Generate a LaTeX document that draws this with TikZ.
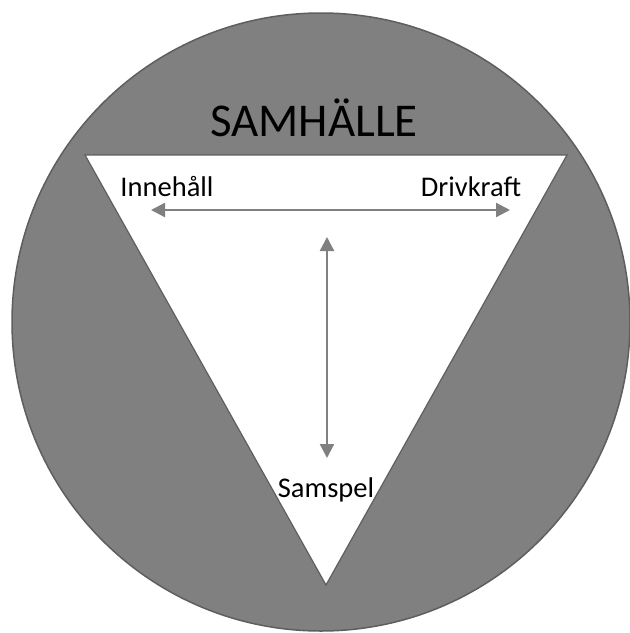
\documentclass[tikz,border=0pt]{standalone}
\usepackage{fontspec}
\setmainfont{Carlito}
\usetikzlibrary{arrows.meta}
\definecolor{disc}{HTML}{808080}
\definecolor{discedge}{HTML}{5E5E5E}
\definecolor{arrowgray}{HTML}{808080}
\tikzset{
  lbl/.style={inner sep=0pt, anchor=base, text=black},
  twoway/.style={arrowgray, line width=2.2pt, {Triangle[length=14pt,width=14pt]}-{Triangle[length=14pt,width=14pt]}}
}
\begin{document}
\begin{tikzpicture}[x=1pt,y=-1pt]
\useasboundingbox (0,0) rectangle (630,633);
\fill[white] (0,0) rectangle (630,633);
\node[circle, minimum size=618pt, inner sep=0pt, fill=disc, draw=discedge, line width=1.5pt] (disc) at (321,322) {};
\coordinate (tl) at (85,155);
\coordinate (tr) at (567,155);
\coordinate (tb) at (326,585);
\draw[fill=white, draw=discedge, line width=1.2pt, line join=miter] (tl) -- (tr) -- (tb) -- cycle;
\node[lbl, font=\fontsize{47}{52}\selectfont] (samhalle) at (314,136) {SAMHÄLLE};
\node[lbl, font=\fontsize{28.5}{32}\selectfont] (innehall) at (167,196) {Innehåll};
\node[lbl, font=\fontsize{28.5}{32}\selectfont] (drivkraft) at (471,196) {Drivkraft};
\node[lbl, font=\fontsize{28.5}{32}\selectfont] (samspel) at (326,497) {Samspel};
\coordinate (hl) at (151,210);
\coordinate (hr) at (510,210);
\coordinate (vt) at (327,237);
\coordinate (vb) at (327,458);
\draw[twoway] (hl) -- (hr);
\draw[twoway] (vt) -- (vb);
\end{tikzpicture}
\end{document}
